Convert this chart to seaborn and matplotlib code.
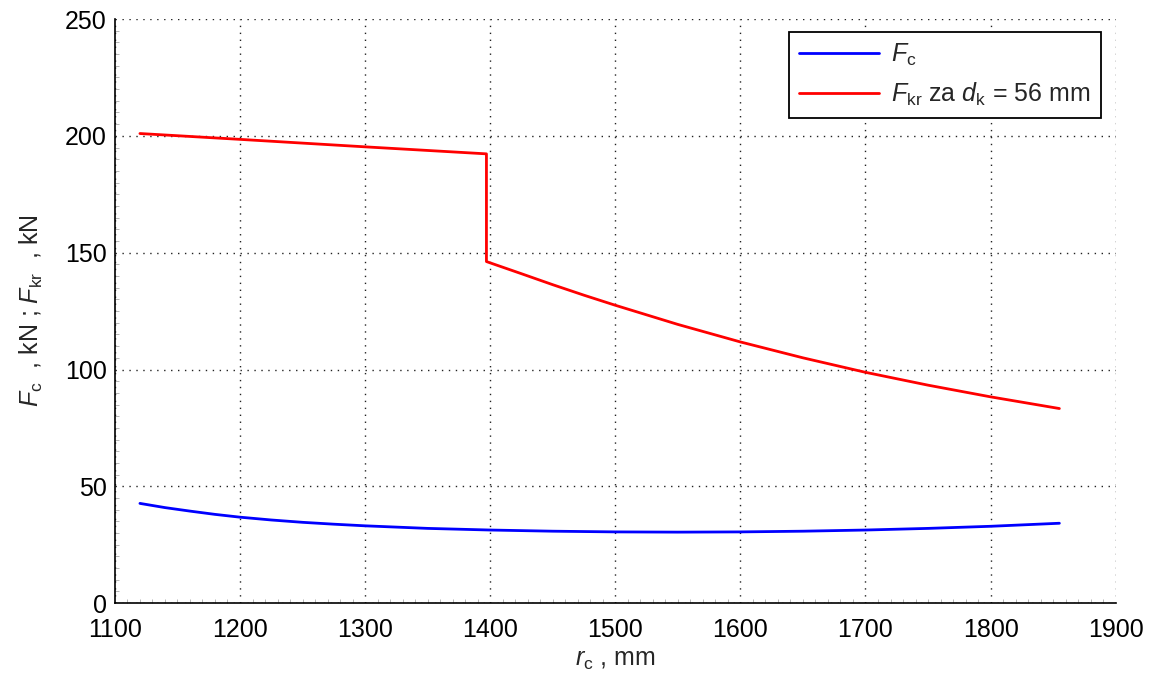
import pandas as pd
import matplotlib.pyplot as plt
import seaborn as sns
from matplotlib.ticker import MultipleLocator

# values
r_c = [1120, 1140, 1160, 1180, 1200, 1225, 1250, 1275, 1300, 1350, 1400, 1450,
       1500, 1550, 1600, 1650, 1700, 1750, 1800, 1855]
f_c = [42.7, 40.9, 39.4, 38.0, 36.8, 35.6, 34.6, 33.8, 33.1, 32.0, 31.3, 30.8,
       30.5, 30.4, 30.5, 30.8, 31.3, 32.0, 32.9, 34.2]

r_kr = [1120, 1200, 1300, 1397, 1397, 1425, 1450, 1475, 1500, 1550, 1600, 1650,
        1700, 1750, 1800, 1855]
f_kr = [201.0, 198.5, 195.3, 192.3, 146.2, 141.0, 136.3, 131.8, 127.5, 119.3,
        111.8, 105.0, 98.8, 93.3, 88.3, 83.3]

lbl_c = r'$\mathit{F}_{\mathrm{c}}$'
lbl_kr = r'$\mathit{F}_{\mathrm{kr}}$ za $\mathit{d}_{\mathrm{k}}$ = 56 mm'

df = pd.concat([
    pd.DataFrame({'r': r_c, 'F': f_c, 'serija': lbl_c}),
    pd.DataFrame({'r': r_kr, 'F': f_kr, 'serija': lbl_kr}),
], ignore_index=True)

sns.set_style('white')
plt.rcParams['font.family'] = ['Liberation Sans', 'DejaVu Sans']
plt.rcParams['mathtext.fontset'] = 'custom'
plt.rcParams['mathtext.rm'] = 'Liberation Sans'
plt.rcParams['mathtext.it'] = 'Liberation Sans:italic'

fig, ax = plt.subplots(figsize=(11.49, 6.8), dpi=100)
sns.lineplot(ax=ax, data=df, x='r', y='F', hue='serija', sort=False, estimator=None,
             palette={lbl_c: '#0000ff', lbl_kr: '#ff0000'}, linewidth=2)

ax.set_xlim(1100, 1900)
ax.set_ylim(0, 250)
ax.set_xticks(range(1100, 1901, 100))
ax.set_yticks(range(0, 251, 50))
ax.xaxis.set_minor_locator(MultipleLocator(10))
ax.yaxis.set_minor_locator(MultipleLocator(5))
ax.grid(True, which='major', linestyle=(0, (1, 4)), color='#222222', linewidth=1)
ax.tick_params(which='major', direction='in', length=7, width=1, labelsize=18, colors='black')
ax.tick_params(axis='x', which='major', pad=11)
ax.tick_params(axis='y', which='major', pad=6)
ax.tick_params(which='minor', direction='in', length=3, width=0.6, color='#aaaaaa',
               bottom=True, left=True)
ax.spines['top'].set_visible(False)
ax.spines['right'].set_visible(False)
for s in ('left', 'bottom'):
    ax.spines[s].set_color('black')
    ax.spines[s].set_linewidth(1.2)

ax.set_xlabel(r'$\mathit{r}_{\mathrm{c}}$ , mm', fontsize=18, labelpad=4)
ax.set_ylabel(r'$\mathit{F}_{\mathrm{c}}$  , kN ; $\mathit{F}_{\mathrm{kr}}$  , kN', fontsize=18, labelpad=14)

leg = ax.legend(title=None, loc='upper right', fontsize=18, fancybox=False, framealpha=1,
                edgecolor='black', handlelength=3.2, handletextpad=0.5, borderpad=0.4,
                labelspacing=0.5, borderaxespad=0, bbox_to_anchor=(0.985, 0.978))
leg.get_frame().set_linewidth(1.3)

fig.subplots_adjust(left=0.1, right=0.971, top=0.972, bottom=0.113)
plt.savefig('out.png', dpi=100)
plt.close()
